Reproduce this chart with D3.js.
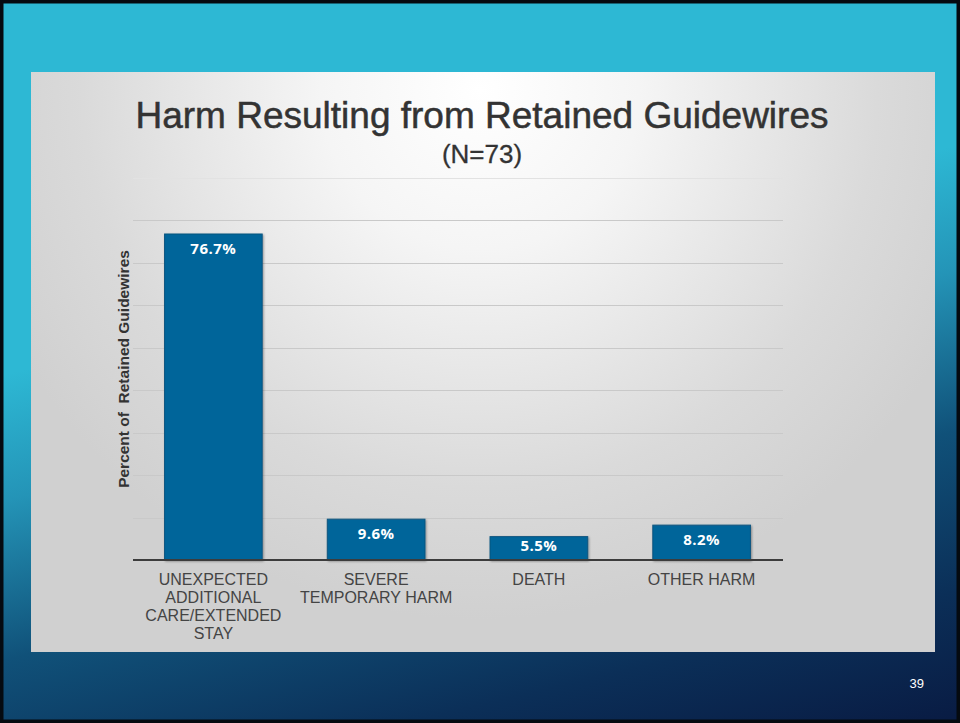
<!DOCTYPE html>
<html>
<head>
<meta charset="utf-8">
<script src="https://cdn.jsdelivr.net/npm/d3@7"></script>
<style>
  html, body { margin: 0; padding: 0; background: #000; }
  svg { display: block; }
</style>
</head>
<body>
<svg id="chart" width="960" height="723"></svg>
<script>
// ---- data ----
const categories = ["UNEXPECTED ADDITIONAL CARE/EXTENDED STAY", "SEVERE TEMPORARY HARM", "DEATH", "OTHER HARM"];
const categoryLines = [
  ["UNEXPECTED", "ADDITIONAL", "CARE/EXTENDED", "STAY"],
  ["SEVERE", "TEMPORARY HARM"],
  ["DEATH"],
  ["OTHER HARM"]
];
const values = [76.7, 9.6, 5.5, 8.2];
const valueLabels = ["76.7%", "9.6%", "5.5%", "8.2%"];
const gridTicks = [10, 20, 30, 40, 50, 60, 70, 80, 90];
const titleText = "Harm Resulting from Retained Guidewires";
const subtitleText = "(N=73)";
const yAxisTitle = "Percent of  Retained Guidewires";
const pageNumber = "39";

// ---- drawing ----
const svg = d3.select("#chart");
const W = 960, H = 723;
const defs = svg.append("defs");

const bg = defs.append("linearGradient").attr("id", "bgGrad")
  .attr("gradientUnits", "userSpaceOnUse")
  .attr("x1", 480).attr("y1", 260).attr("x2", 610).attr("y2", 800);
bg.append("stop").attr("offset", 0).attr("stop-color", "#2db8d4");
bg.append("stop").attr("offset", 0.22).attr("stop-color", "#2494b7");
bg.append("stop").attr("offset", 0.5).attr("stop-color", "#105179");
bg.append("stop").attr("offset", 0.78).attr("stop-color", "#0b2f58");
bg.append("stop").attr("offset", 1).attr("stop-color", "#091c44");

const pg = defs.append("radialGradient").attr("id", "panelGrad")
  .attr("gradientUnits", "userSpaceOnUse")
  .attr("cx", 480).attr("cy", 90).attr("r", 530);
pg.append("stop").attr("offset", 0).attr("stop-color", "#ffffff");
pg.append("stop").attr("offset", 0.3).attr("stop-color", "#f5f5f5");
pg.append("stop").attr("offset", 0.75).attr("stop-color", "#dadada");
pg.append("stop").attr("offset", 1).attr("stop-color", "#d0d0d0");

const shadow = defs.append("filter").attr("id", "barShadow")
  .attr("x", "-10%").attr("y", "-10%").attr("width", "120%").attr("height", "120%");
shadow.append("feDropShadow").attr("dx", 1).attr("dy", 1).attr("stdDeviation", 1.2)
  .attr("flood-color", "#000").attr("flood-opacity", 0.35);

// slide background
svg.append("rect").attr("x", 0).attr("y", 0).attr("width", W).attr("height", H)
  .attr("fill", "url(#bgGrad)");
svg.append("rect").attr("x", 1.5).attr("y", 1.5).attr("width", W - 3).attr("height", H - 3)
  .attr("fill", "none").attr("stroke", "#050a10").attr("stroke-width", 4);

// panel
svg.append("rect").attr("x", 31).attr("y", 72).attr("width", 904).attr("height", 580)
  .attr("fill", "url(#panelGrad)");

// scales
const x = d3.scaleBand().domain(categories).range([132, 783]).paddingInner(0.4).paddingOuter(0.2);
const y = d3.scaleLinear().domain([0, 90]).range([560, 177.5]);

// gridlines
const grid = svg.append("g");
grid.selectAll("line").data(gridTicks).join("line")
  .attr("x1", 133).attr("x2", 783)
  .attr("y1", d => Math.round(y(d)) + 0.5).attr("y2", d => Math.round(y(d)) + 0.5)
  .attr("stroke", d => d === 90 ? "#e2e2e2" : "#c9c9c9").attr("stroke-width", 1);

// bars
svg.append("g").selectAll("rect").data(values).join("rect")
  .attr("x", (d, i) => x(categories[i]))
  .attr("y", d => y(d))
  .attr("width", x.bandwidth())
  .attr("height", d => y(0) - y(d))
  .attr("fill", "#03659a")
  .attr("stroke", "#0b5580").attr("stroke-width", 1)
  .attr("filter", "url(#barShadow)");

// value labels
svg.append("g").selectAll("text").data(values).join("text")
  .attr("x", (d, i) => x(categories[i]) + x.bandwidth() / 2)
  .attr("y", d => Math.min(y(d) + 20, y(0) - 9))
  .attr("text-anchor", "middle")
  .attr("font-family", "'Open Sans', 'DejaVu Sans', sans-serif")
  .attr("font-weight", "bold")
  .attr("font-size", 15)
  .attr("letter-spacing", 0.5)
  .attr("fill", "#ffffff")
  .text((d, i) => valueLabels[i]);

// x axis line
svg.append("line").attr("x1", 133).attr("x2", 783).attr("y1", 560).attr("y2", 560)
  .attr("stroke", "#3c3c3c").attr("stroke-width", 2);

// category labels
const catG = svg.append("g");
categoryLines.forEach((lines, i) => {
  const t = catG.append("text")
    .attr("text-anchor", "middle")
    .attr("font-family", "'Liberation Sans', Arial, sans-serif")
    .attr("font-size", 16)
    .attr("fill", "#444");
  lines.forEach((ln, j) => {
    t.append("tspan")
      .attr("x", x(categories[i]) + x.bandwidth() / 2)
      .attr("y", 585 + j * 18)
      .text(ln);
  });
});

// y axis title
svg.append("text")
  .attr("transform", "translate(129,369) rotate(-90)")
  .attr("text-anchor", "middle")
  .attr("font-family", "'Liberation Sans', Arial, sans-serif")
  .attr("font-weight", "bold")
  .attr("font-size", 15.5)
  .attr("fill", "#333")
  .style("white-space", "pre")
  .attr("xml:space", "preserve")
  .text(yAxisTitle);

// title
svg.append("text")
  .attr("x", 482).attr("y", 128)
  .attr("text-anchor", "middle")
  .attr("font-family", "'Liberation Sans', Arial, sans-serif")
  .attr("font-size", 37)
  .attr("fill", "#333")
  .attr("stroke", "#333").attr("stroke-width", 0.5)
  .text(titleText);

svg.append("text")
  .attr("x", 482).attr("y", 163)
  .attr("text-anchor", "middle")
  .attr("font-family", "'Liberation Sans', Arial, sans-serif")
  .attr("font-size", 26)
  .attr("fill", "#333")
  .attr("stroke", "#333").attr("stroke-width", 0.3)
  .text(subtitleText);

// page number
svg.append("text")
  .attr("x", 924).attr("y", 688)
  .attr("text-anchor", "end")
  .attr("font-family", "'Liberation Sans', Arial, sans-serif")
  .attr("font-size", 13)
  .attr("fill", "#ffffff")
  .text(pageNumber);
</script>
</body>
</html>
